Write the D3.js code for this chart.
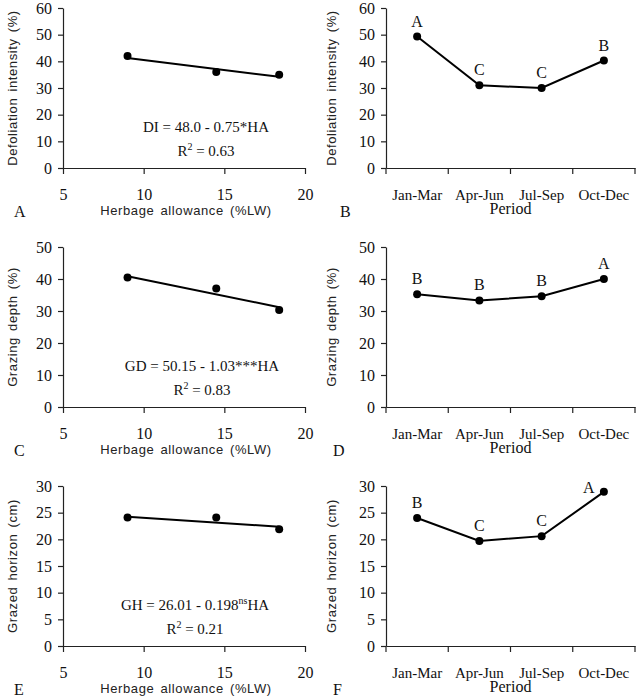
<!DOCTYPE html>
<html lang="en">
<head>
<meta charset="UTF-8">
<title>Defoliation, grazing depth and grazed horizon</title>
<script src="https://d3js.org/d3.v7.min.js"></script>
<style>
  body { margin: 0; background: #fff; }
  .tick text { font-family: "Liberation Serif", "Times New Roman", serif; font-size: 16px; fill: #111; }
  .ptick .tick text { font-size: 15px; }
  .axis path, .axis line { stroke: #222; stroke-width: 1.2; }
  .ytitle, .xtitle-sans { font-family: "Liberation Sans", Arial, sans-serif; font-size: 13px; letter-spacing: 0.6px; word-spacing: 2px; fill: #222; }
  .serif { font-family: "Liberation Serif", "Times New Roman", serif; fill: #111; }
</style>
</head>
<body>
<div id="chart"></div>
<script>
// values
const haValues = [9, 14.5, 18.4];
const haTicks = [5, 10, 15, 20];
const diByHA = [42, 36, 35];
const gdByHA = [40.5, 37, 30.3];
const ghByHA = [24.1, 24.1, 21.9];

const periods = ["Jan-Mar", "Apr-Jun", "Jul-Sep", "Oct-Dec"];
const diByPeriod = [49.3, 31, 30, 40.3];
const gdByPeriod = [35.2, 33.3, 34.6, 40];
const ghByPeriod = [24, 19.7, 20.6, 28.9];
const diLetters = ["A", "C", "C", "B"];
const gdLetters = ["B", "B", "B", "A"];
const ghLetters = ["B", "C", "C", "A"];

// regression equations printed on the panels
const diFit = {a: 48.0, b: -0.75};
const gdFit = {a: 50.15, b: -1.03};
const ghFit = {a: 26.01, b: -0.198};

const svg = d3.select("#chart").append("svg")
  .attr("width", 642).attr("height", 696);

const rows = [
  {top: 8, bottom: 168},
  {top: 247, bottom: 407},
  {top: 486, bottom: 646}
];

function yAxisStuff(g, y, ticks, title, titleX, midY) {
  g.append("g").attr("class", "axis")
    .call(d3.axisLeft(y).tickValues(ticks).tickSize(5).tickPadding(6).tickSizeOuter(0));
  svg.append("text").attr("class", "ytitle")
    .attr("transform", "translate(" + titleX + "," + midY + ") rotate(-90)")
    .attr("text-anchor", "middle").attr("dy", "0.35em")
    .text(title);
}

// left column: value vs herbage allowance
function scatterPanel(o) {
  const left = 63, right = 305;
  const g = svg.append("g").attr("transform", "translate(" + left + "," + o.row.top + ")");
  const h = o.row.bottom - o.row.top;
  const x = d3.scaleLinear().domain([5, 20]).range([0, right - left]);
  const y = d3.scaleLinear().domain([0, o.ymax]).range([h, 0]);

  yAxisStuff(g, y, o.yticks, o.title, 12, (o.row.top + o.row.bottom) / 2);

  g.append("g").attr("class", "axis").attr("transform", "translate(0," + h + ")")
    .call(d3.axisBottom(x).tickValues(haTicks).tickSize(6).tickPadding(15).tickSizeOuter(0));

  // fitted line over the data range
  const ext = d3.extent(haValues);
  g.append("line")
    .attr("x1", x(ext[0])).attr("y1", y(o.fit.a + o.fit.b * ext[0]))
    .attr("x2", x(ext[1])).attr("y2", y(o.fit.a + o.fit.b * ext[1]))
    .attr("stroke", "#000").attr("stroke-width", 2);

  g.selectAll(".dot").data(haValues).enter().append("circle")
    .attr("cx", d => x(d)).attr("cy", (d, i) => y(o.values[i]))
    .attr("r", 4).attr("fill", "#000");

  // equation
  const eq = svg.append("text").attr("class", "serif").attr("font-size", 15)
    .attr("text-anchor", "middle").attr("x", o.eqX).attr("y", o.row.top + 124);
  eq.append("tspan").text(o.eqLeft);
  if (o.eqSup) eq.append("tspan").attr("font-size", 10).attr("dy", -6).text(o.eqSup);
  if (o.eqRight) eq.append("tspan").attr("dy", o.eqSup ? 6 : 0).text(o.eqRight);

  const r2 = svg.append("text").attr("class", "serif").attr("font-size", 15)
    .attr("text-anchor", "middle").attr("x", o.eqX).attr("y", o.row.top + 148);
  r2.append("tspan").text("R");
  r2.append("tspan").attr("font-size", 10).attr("dy", -6).text("2");
  r2.append("tspan").attr("dy", 6).text(" = " + o.r2);

  svg.append("text").attr("class", "xtitle-sans").attr("text-anchor", "middle")
    .attr("x", 186).attr("y", o.row.bottom + 47).text("Herbage allowance (%LW)");
  svg.append("text").attr("class", "serif").attr("font-size", 16)
    .attr("x", 14).attr("y", o.row.bottom + 49).text(o.tag);
}

// right column: value by period
function periodPanel(o) {
  const left = 386, right = 635;
  const g = svg.append("g").attr("transform", "translate(" + left + "," + o.row.top + ")");
  const h = o.row.bottom - o.row.top;
  const x = d3.scaleBand().domain(periods).range([0, right - left]);
  const y = d3.scaleLinear().domain([0, o.ymax]).range([h, 0]);

  yAxisStuff(g, y, o.yticks, o.title, 331, (o.row.top + o.row.bottom) / 2);

  const xa = g.append("g").attr("class", "axis ptick").attr("transform", "translate(0," + h + ")")
    .call(d3.axisBottom(x).tickSize(0).tickPadding(21).tickSizeOuter(0));
  xa.selectAll(".tick line").remove();
  const bounds = periods.map(p => x(p)).concat([x.range()[1]]);
  xa.selectAll(".bound").data(bounds).enter().append("line")
    .attr("x1", d => d).attr("x2", d => d).attr("y1", 0).attr("y2", 6)
    .attr("stroke", "#222").attr("stroke-width", 1.2);

  const cx = p => x(p) + x.bandwidth() / 2;
  g.append("path").datum(o.values)
    .attr("fill", "none").attr("stroke", "#000").attr("stroke-width", 2)
    .attr("d", d3.line().x((d, i) => cx(periods[i])).y(d => y(d)));

  g.selectAll(".dot").data(o.values).enter().append("circle")
    .attr("cx", (d, i) => cx(periods[i])).attr("cy", d => y(d))
    .attr("r", 4).attr("fill", "#000");

  g.selectAll(".letter").data(o.letters).enter().append("text")
    .attr("class", "serif").attr("font-size", 16).attr("text-anchor", "middle")
    .attr("x", (d, i) => cx(periods[i]) + ((o.nudge && o.nudge[i]) ? o.nudge[i][0] : 0))
    .attr("y", (d, i) => y(o.values[i]) - 10 + ((o.nudge && o.nudge[i]) ? o.nudge[i][1] : 0))
    .text(d => d);

  svg.append("text").attr("class", "serif").attr("font-size", 16).attr("text-anchor", "middle")
    .attr("x", left + (right - left) / 2).attr("y", o.row.bottom + 46).text("Period");
  svg.append("text").attr("class", "serif").attr("font-size", 16)
    .attr("x", o.tagX).attr("y", o.row.bottom + 49).text(o.tag);
}

scatterPanel({row: rows[0], ymax: 60, yticks: d3.range(0, 61, 10), values: diByHA, fit: diFit,
  title: "Defoliation intensity (%)", eqX: 206, eqLeft: "DI = 48.0 - 0.75*HA", r2: "0.63", tag: "A"});
scatterPanel({row: rows[1], ymax: 50, yticks: d3.range(0, 51, 10), values: gdByHA, fit: gdFit,
  title: "Grazing depth (%)", eqX: 202, eqLeft: "GD = 50.15 - 1.03***HA", r2: "0.83", tag: "C"});
scatterPanel({row: rows[2], ymax: 30, yticks: d3.range(0, 31, 5), values: ghByHA, fit: ghFit,
  title: "Grazed horizon (cm)", eqX: 195, eqLeft: "GH = 26.01 - 0.198", eqSup: "ns", eqRight: "HA", r2: "0.21", tag: "E"});

periodPanel({row: rows[0], ymax: 60, yticks: d3.range(0, 61, 10), values: diByPeriod, letters: diLetters,
  title: "Defoliation intensity (%)", tag: "B", tagX: 340});
periodPanel({row: rows[1], ymax: 50, yticks: d3.range(0, 51, 10), values: gdByPeriod, letters: gdLetters,
  title: "Grazing depth (%)", tag: "D", tagX: 333});
periodPanel({row: rows[2], ymax: 30, yticks: d3.range(0, 31, 5), values: ghByPeriod, letters: ghLetters,
  title: "Grazed horizon (cm)", tag: "F", tagX: 333, nudge: {3: [-15, 11]}});
</script>
</body>
</html>
